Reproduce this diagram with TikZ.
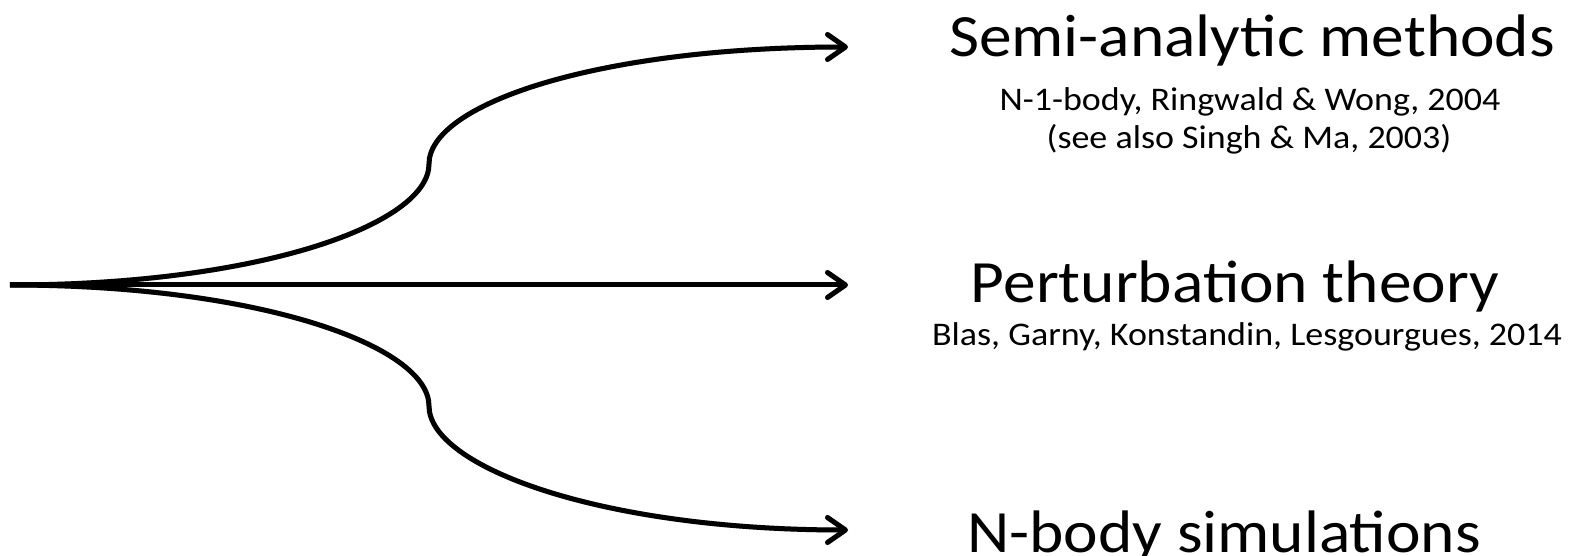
\documentclass[tikz,border=0pt]{standalone}
\usepackage{fontspec}
\setmainfont{Carlito}[FakeStretch=1.09]
\usetikzlibrary{arrows.meta}
\begin{document}
\begin{tikzpicture}[x=1pt,y=-1pt,
  branch/.style={line width=5pt, -{Straight Barb[length=18pt,width=25pt,round]}},
  halo/.style={branch, draw=black!18, shift={(1.5,3)}},
  title/.style={anchor=base, inner sep=0pt, font=\fontsize{60}{66}\selectfont},
  cite/.style={anchor=base, inner sep=0pt, align=center, font=\fontsize{33}{40}\selectfont},
]
\useasboundingbox (0,0) rectangle (1583,556);

% branching point and the three arrow ends
\coordinate (root) at (10,285);
\coordinate (upbend) at (429,164);
\coordinate (lobend) at (429,406);
\coordinate (upend) at (848,47);
\coordinate (midend) at (848,285);
\coordinate (loend) at (848,530);

% soft shadows under the branches
\draw[halo] (root) .. controls +(250,0) and +(0,60) .. (upbend)
                   .. controls +(0,-60) and +(-250,0) .. (upend);
\draw[halo] (root) -- (midend);
\draw[halo] (root) .. controls +(250,0) and +(0,-60) .. (lobend)
                   .. controls +(0,60) and +(-250,0) .. (loend);

% the branches
\draw[branch] (root) .. controls +(250,0) and +(0,60) .. (upbend)
                     .. controls +(0,-60) and +(-250,0) .. (upend);
\draw[branch] (root) -- (midend);
\draw[branch] (root) .. controls +(250,0) and +(0,-60) .. (lobend)
                     .. controls +(0,60) and +(-250,0) .. (loend);

% labels
\node[title] (semi) at (1252,57) {Semi-analytic methods};
\node[cite] (semiref) at (1250,111) {N-1-body, Ringwald \& Wong, 2004};
\node[cite] (semiref2) at (1249,149) {(see also Singh \& Ma, 2003)};
\node[title] (pert) at (1235,302) {Perturbation theory};
\node[cite] (pertref) at (1247,345) {Blas, Garny, Konstandin, Lesgourgues, 2014};
\node[title] (nbody) at (1224,552) {N-body simulations};
\end{tikzpicture}
\end{document}
